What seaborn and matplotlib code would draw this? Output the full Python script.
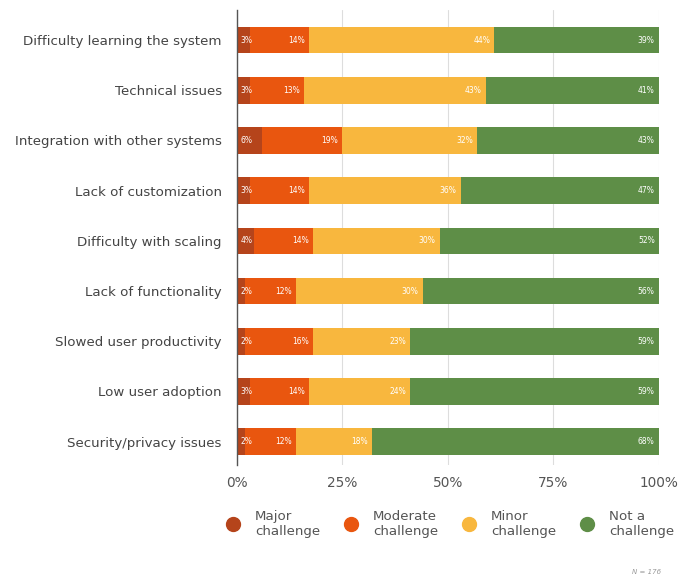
import matplotlib
matplotlib.use("Agg")
import matplotlib.pyplot as plt
from matplotlib.lines import Line2D
import seaborn as sns
import pandas as pd
import numpy as np

categories = [
    "Difficulty learning the system",
    "Technical issues",
    "Integration with other systems",
    "Lack of customization",
    "Difficulty with scaling",
    "Lack of functionality",
    "Slowed user productivity",
    "Low user adoption",
    "Security/privacy issues",
]
major = [3, 3, 6, 3, 4, 2, 2, 3, 2]
moderate = [14, 13, 19, 14, 14, 12, 16, 14, 12]
minor = [44, 43, 32, 36, 30, 30, 23, 24, 18]
not_challenge = [39, 41, 43, 47, 52, 56, 59, 59, 68]

series_names = ["Major\nchallenge", "Moderate\nchallenge", "Minor\nchallenge", "Not a\nchallenge"]
colors = ["#B5441B", "#E9560F", "#F8B73E", "#5E8E47"]
xticks = [0, 25, 50, 75, 100]
xticklabels = ["0%", "25%", "50%", "75%", "100%"]
note = "N = 176"

sns.set_theme(style="white")
plt.rcParams["font.family"] = ["DejaVu Sans"]

fig = plt.figure(figsize=(6.8, 5.81), dpi=100)
ax = fig.add_axes([0.3485, 0.2, 0.6205, 0.783])

vals = np.array([major, moderate, minor, not_challenge], dtype=float)
cum = np.cumsum(vals, axis=0)

# draw from the full stack down so shorter cumulative bars overlay
for i in range(3, -1, -1):
    df = pd.DataFrame({"cat": categories, "val": cum[i]})
    sns.barplot(data=df, x="val", y="cat", orient="h", color=colors[i],
                saturation=1, width=0.53, ax=ax, zorder=3, linewidth=0)

# value labels
for j in range(len(categories)):
    for i in range(4):
        v = int(vals[i, j])
        if i == 0:
            ax.text(0.9, j, f"{v}%", ha="left", va="center", color="white",
                    fontsize=5.5, zorder=5)
        else:
            ax.text(cum[i, j] - 1.0, j, f"{v}%", ha="right", va="center",
                    color="white", fontsize=5.5, zorder=5)

ax.set_xlim(0, 100)
ax.set_ylim(8.46, -0.6)
ax.set_xticks(xticks)
ax.set_xticklabels(xticklabels, fontsize=9.8, color="#555555")
ax.tick_params(axis="y", labelsize=9.6, labelcolor="#444444", length=0, pad=11)
ax.tick_params(axis="x", length=0, pad=8)
ax.set_xlabel("")
ax.set_ylabel("")
ax.xaxis.grid(True, color="#DDDDDD", linewidth=0.8, zorder=0)
ax.set_axisbelow(True)
for s in ["top", "right", "bottom"]:
    ax.spines[s].set_visible(False)
ax.spines["left"].set_color("#555555")
ax.spines["left"].set_linewidth(1.0)
ax.spines["left"].set_zorder(6)

handles = [Line2D([0], [0], marker="o", linestyle="", markersize=10,
                  markerfacecolor=c, markeredgecolor=c) for c in colors]
fig.legend(handles, series_names, loc="center left", ncol=4,
           bbox_to_anchor=(0.313, 0.098), frameon=False, fontsize=9.6,
           labelcolor="#555555", handletextpad=1.05, columnspacing=1.72,
           handlelength=1.2)

fig.text(0.972, 0.01, note, ha="right", va="bottom", fontsize=5,
         style="italic", color="#999999")

fig.savefig("out.png", dpi=100)
